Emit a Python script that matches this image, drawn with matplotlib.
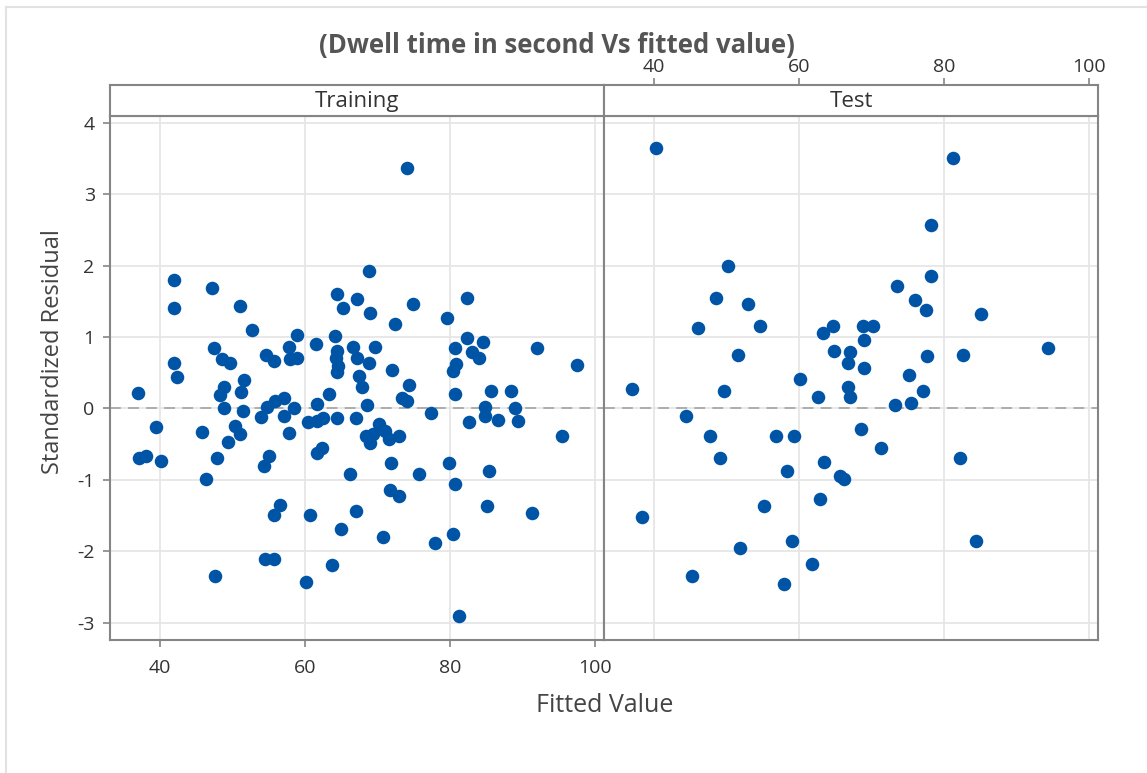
import matplotlib
matplotlib.use("Agg")
import matplotlib.pyplot as plt
from matplotlib.lines import Line2D

plt.rcParams['font.family'] = ['Open Sans', 'DejaVu Sans']
plt.rcParams['axes.unicode_minus'] = False

# Training set: fitted values and standardized residuals
train_fit = [
    41.9, 41.9, 47.2, 51.1, 52.7, 41.9, 42.4, 36.9, 47.5, 48.6,
    49.7, 51.6, 51.2, 51.4, 48.8, 48.3, 48.8, 39.4, 45.8, 50.4,
    51.1, 49.4, 37.1, 38.1, 40.2, 47.9, 46.3, 47.6, 53.9, 54.8,
    55.9, 57.1, 58.5, 57.1, 57.8, 54.7, 55.7, 57.8, 57.9, 58.9,
    58.9, 61.6, 55.0, 54.3, 56.6, 55.7, 54.5, 55.7, 60.7, 60.2,
    63.8, 64.95, 66.2, 61.7, 62.3, 60.4, 61.7, 62.5, 61.7, 63.3,
    64.4, 64.4, 64.3, 64.6, 64.2, 64.4, 65.2, 67.2, 64.4, 67.0,
    67.0, 66.6, 67.2, 67.5, 67.9,
    74.1, 68.8, 69.05, 74.9, 72.4, 82.4, 79.6, 69.65, 68.8, 72.1,
    74.4, 73.4, 74.1, 68.6, 77.4, 80.7, 80.8, 80.5, 80.7, 82.4,
    84.6, 83.1, 84.1, 85.7, 88.5, 84.9, 84.9, 86.6, 82.7, 89.05,
    89.4, 92.1, 97.6, 95.5, 70.2, 71.1, 68.4, 69.05, 71.6, 73.0,
    69.4, 71.9, 75.75, 79.9, 80.7, 85.45, 71.8, 73.0, 70.8, 77.97,
    80.5, 85.2, 91.3, 81.3,
]
train_res = [
    1.80, 1.40, 1.69, 1.43, 1.10, 0.64, 0.44, 0.21, 0.84, 0.69,
    0.63, 0.40, 0.23, -0.03, 0.30, 0.19, 0.01, -0.26, -0.33, -0.24,
    -0.36, -0.47, -0.69, -0.66, -0.73, -0.69, -0.98, -2.35, -0.12, 0.02,
    0.11, 0.15, 0.00, -0.10, -0.35, 0.75, 0.67, 0.86, 0.69, 0.70,
    1.03, 0.90, -0.66, -0.81, -1.35, -1.49, -2.11, -2.11, -1.49, -2.43,
    -2.19, -1.69, -0.92, -0.63, -0.56, -0.19, -0.18, -0.13, 0.06, 0.20,
    0.51, 0.81, 0.70, 0.60, 1.01, 1.60, 1.40, 1.53, -0.13, -0.13,
    -1.43, 0.86, 0.70, 0.45, 0.30,
    3.37, 1.92, 1.33, 1.46, 1.18, 1.55, 1.26, 0.86, 0.64, 0.54,
    0.33, 0.15, 0.10, 0.05, -0.07, 0.84, 0.62, 0.52, 0.20, 0.99,
    0.93, 0.79, 0.70, 0.24, 0.24, 0.02, -0.10, -0.16, -0.19, 0.00,
    -0.18, 0.84, 0.61, -0.38, -0.22, -0.31, -0.38, -0.48, -0.43, -0.38,
    -0.36, -0.77, -0.92, -0.77, -1.06, -0.87, -1.14, -1.22, -1.80, -1.88,
    -1.75, -1.37, -1.46, -2.91,
]

# Test set
test_fit = [
    40.3, 37.0, 38.3, 50.2, 48.5, 53.0, 46.1, 54.7, 51.6, 49.6,
    44.4, 47.7, 49.1, 45.25, 51.9, 55.2, 56.9, 59.35, 58.3, 59.0,
    58.0, 61.8, 62.9, 63.5, 65.7, 66.2, 60.1, 62.7, 63.4, 64.65,
    64.9, 67.05, 66.8, 66.8, 67.1, 81.3, 78.3, 78.3, 73.5, 76.1,
    77.5, 85.2, 68.8, 70.2, 69.05, 69.05, 77.7, 82.7, 94.4, 75.15,
    77.2, 73.3, 75.5, 68.6, 71.3, 82.2, 84.4,
]
test_res = [
    3.64, 0.27, -1.52, 2.00, 1.55, 1.46, 1.12, 1.15, 0.75, 0.24,
    -0.10, -0.38, -0.69, -2.34, -1.95, -1.37, -0.38, -0.38, -0.87, -1.86,
    -2.45, -2.17, -1.27, -0.75, -0.94, -0.99, 0.41, 0.16, 1.06, 1.15,
    0.81, 0.79, 0.63, 0.30, 0.16, 3.51, 2.57, 1.86, 1.72, 1.52,
    1.38, 1.32, 1.15, 1.15, 0.96, 0.56, 0.73, 0.75, 0.84, 0.47,
    0.24, 0.05, 0.07, -0.29, -0.55, -0.69, -1.86,
]

panels = ["Training", "Test"]
x_ticks = [40, 60, 80, 100]
y_ticks = [-3, -2, -1, 0, 1, 2, 3, 4]

W, H = 1147, 773
DOT = '#0054a6'
EDGE = '#858585'
GRID = '#e6e6e6'
TXT = '#333333'


def px_box(x0, y0, x1, y1):
    return [x0 / W, 1 - y1 / H, (x1 - x0) / W, (y1 - y0) / H]


fig = plt.figure(figsize=(W / 100, H / 100), dpi=100)

# light frame on the left and top edges
fig.add_artist(Line2D([6 / W, 6 / W], [0, 1 - 7 / H], transform=fig.transFigure,
                      color='#e2e2e2', lw=1.5))
fig.add_artist(Line2D([6 / W, 1], [1 - 7 / H, 1 - 7 / H], transform=fig.transFigure,
                      color='#e2e2e2', lw=1.5))

edges = [(110, 604), (604, 1098)]
data = [(train_fit, train_res), (test_fit, test_res)]

for i, (name, (x0, x1), (fx, fy)) in enumerate(zip(panels, edges, data)):
    ax = fig.add_axes(px_box(x0, 115.5, x1, 640))
    ax.set_xlim(33.1, 101.3)
    ax.set_ylim(-3.24, 4.1)
    ax.set_xticks(x_ticks)
    ax.set_yticks(y_ticks)
    ax.grid(True, color=GRID, lw=1.3, zorder=0)
    ax.set_axisbelow(True)
    ax.axhline(0, color='#a8a8a8', lw=1.3, ls=(0, (6, 4)), zorder=1)
    ax.scatter(fx, fy, s=95, color=DOT, linewidths=0, zorder=3)
    for sp in ax.spines.values():
        sp.set_color(EDGE)
        sp.set_linewidth(1.5)
    ax.tick_params(colors=EDGE, labelcolor=TXT, labelsize=14, length=5, width=1.2)
    if i == 0:
        ax.tick_params(axis='x', pad=9)
        ax.tick_params(axis='y', pad=6)
    else:
        ax.tick_params(left=False, labelleft=False, bottom=False, labelbottom=False)

    # panel strip with the group name
    strip = fig.add_axes(px_box(x0, 84.5, x1, 115.5))
    strip.set_xlim(33.1, 101.3)
    strip.set_yticks([])
    strip.text(0.5, 0.45, name, transform=strip.transAxes, ha='center', va='center',
               fontsize=16, color=TXT)
    for sp in strip.spines.values():
        sp.set_color(EDGE)
        sp.set_linewidth(1.5)
    if i == 1:
        strip.xaxis.tick_top()
        strip.set_xticks(x_ticks)
        strip.tick_params(axis='x', colors=EDGE, labelcolor=TXT, labelsize=14,
                          length=5, width=1.2, pad=1)
    else:
        strip.set_xticks([])

fig.text(557 / W, 1 - 45 / H, "(Dwell time in second Vs fitted value)", ha='center',
         va='center', fontsize=18.5, fontweight='bold', color='#555555')
fig.text(53 / W, 1 - 352 / H, "Standardized Residual", rotation=90, ha='center',
         va='center', fontsize=17, color='#444444')
fig.text(605 / W, 1 - 705 / H, "Fitted Value", ha='center', va='center',
         fontsize=18, color='#444444')

fig.savefig("out.png", dpi=100, facecolor='white')
